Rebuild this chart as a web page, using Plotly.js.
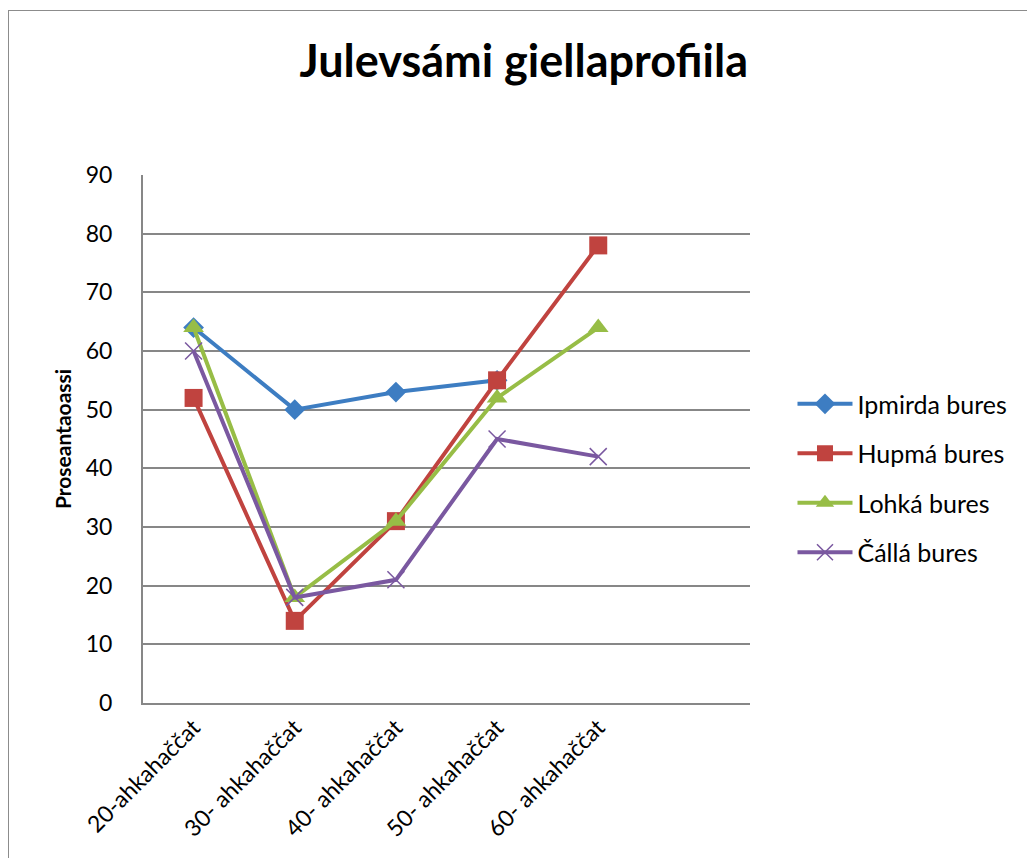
<!DOCTYPE html>
<html>
<head>
<meta charset="utf-8">
<script src="https://cdn.plot.ly/plotly-3.0.1.min.js"></script>
<style>
    body { margin: 0; background: #fff; }
    #frame { position: absolute; left: 8px; top: 10px; right: -2px; bottom: -2px; border-left: 1.5px solid #8c8c8c; border-top: 1.5px solid #8c8c8c; pointer-events: none; z-index: 5; }
    #chart { width: 1027px; height: 858px; }
</style>
</head>
<body>
<div id="frame"></div>
<div id="chart"></div>
<script>
// age groups along the x axis
const ageGroups = ["20-ahkahaččat", "30- ahkahaččat", "40- ahkahaččat", "50- ahkahaččat", "60- ahkahaččat"];

// percentages for each skill
const ipmirda = [64, 50, 53, 55, null];
const hupma = [52, 14, 31, 55, 78];
const lohka = [64, 18, 31, 52, 64];
const calla = [60, 18, 21, 45, 42];

const FONT = "Lato, 'Open Sans', sans-serif";

function makeTrace(name, values, color, symbol, size, group) {
    return {
        x: ageGroups,
        y: values,
        name: name,
        type: 'scatter',
        mode: 'lines+markers',
        legendgroup: group,
        line: { color: color, width: 4 },
        marker: {
            symbol: symbol,
            size: size,
            color: color,
            line: { color: color, width: symbol === 'x-thin' ? 1.5 : 0 }
        }
    };
}

const data = [
    makeTrace("Ipmirda bures", ipmirda, '#3d7dc2', 'diamond', 16, 'a'),
    makeTrace("Hupmá bures", hupma, '#c0433f', 'square', 18, 'b'),
    makeTrace("Lohká bures", lohka, '#97bd46', 'triangle-up', 18, 'c'),
    makeTrace("Čállá bures", calla, '#7a58a0', 'x-thin', 17, 'd')
];

const layout = {
    width: 1027,
    height: 858,
    margin: { l: 143, r: 277, t: 175, b: 155 },
    paper_bgcolor: '#fff',
    plot_bgcolor: '#fff',
    font: { family: FONT, size: 20, color: '#000' },
    title: {
        text: '<b>Julevsámi giellaprofiila</b>',
        font: { family: FONT, size: 45, color: '#000' },
        x: 0.51,
        xref: 'container',
        xanchor: 'center',
        y: 0.929,
        yanchor: 'middle'
    },
    xaxis: {
        type: 'category',
        range: [-0.5, 5.5],
        showgrid: false,
        showline: true,
        linecolor: '#878787',
        linewidth: 2,
        ticks: '',
        tickangle: -45,
        tickfont: { family: FONT, size: 23 },
        fixedrange: true
    },
    yaxis: {
        range: [0, 90],
        dtick: 10,
        showgrid: true,
        gridcolor: '#878787',
        gridwidth: 2,
        showline: true,
        linecolor: '#878787',
        linewidth: 2,
        zeroline: false,
        ticks: '',
        ticklabelstandoff: 24,
        tickfont: { family: FONT, size: 23 },
        title: {
            text: '<b>Proseantaoassi</b>',
            font: { family: FONT, size: 21 },
            standoff: 8
        },
        fixedrange: true
    },
    showlegend: true,
    legend: {
        x: 1.07,
        xanchor: 'left',
        y: 0.426,
        yanchor: 'middle',
        traceorder: 'grouped',
        tracegroupgap: 14,
        itemwidth: 55,
        font: { family: FONT, size: 25 },
        bgcolor: 'rgba(0,0,0,0)'
    }
};

Plotly.newPlot('chart', data, layout, { displayModeBar: false, staticPlot: true });
</script>
</body>
</html>
